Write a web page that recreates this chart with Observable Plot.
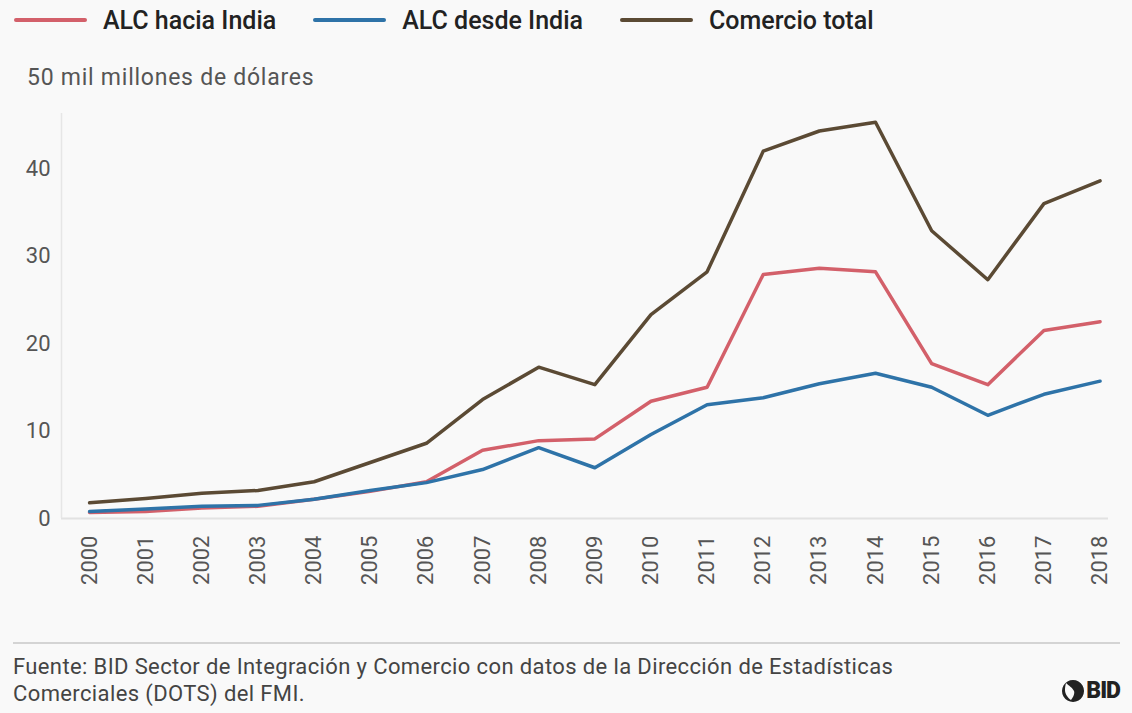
<!DOCTYPE html>
<html>
<head>
<meta charset="utf-8">
<script src="https://cdn.jsdelivr.net/npm/d3@7"></script>
<script src="https://cdn.jsdelivr.net/npm/@observablehq/plot@0.6"></script>
<style>
  html, body { margin: 0; padding: 0; background: #f9f9f9; }
  body { width: 1132px; height: 713px; position: relative; overflow: hidden; font-family: Roboto, "Open Sans", sans-serif; }
  #legend { position: absolute; left: 14px; top: 3px; height: 34px; display: flex; align-items: center; font-size: 25px; font-weight: 500; color: #222; }
  .item { display: flex; align-items: center; margin-right: 37px; }
  .sw { width: 73px; height: 4px; border-radius: 2px; margin-right: 16px; }
  #ylabel { position: absolute; left: 27px; top: 64px; font-size: 23px; letter-spacing: 0.75px; color: #555; }
  #chart { position: absolute; left: 0; top: 100px; }
  #sep { position: absolute; left: 13px; top: 642px; width: 1107px; height: 2px; background: #d4d4d4; }
  #caption { position: absolute; left: 13px; top: 653px; font-size: 22px; letter-spacing: 0.38px; line-height: 27px; color: #444; }
  #logo { position: absolute; right: 12px; top: 677px; display: flex; align-items: center; font-weight: 900; font-size: 23px; color: #222; letter-spacing: -1px; }
</style>
</head>
<body>
<div id="legend"></div>
<div id="ylabel">50 mil millones de dólares</div>
<div id="chart"></div>
<div id="sep"></div>
<div id="caption">Fuente: BID Sector de Integración y Comercio con datos de la Dirección de Estadísticas<br>Comerciales (DOTS) del FMI.</div>
<div id="logo"><svg width="22" height="24" viewBox="0 0 22 24"><path d="M11 1 A11 11 0 1 0 11.01 1 Z M4 4 C7 7 10 8 12 12 C13 15 11 18 9 21 C6 19 3 15 3 11 C3 8 3.5 6 4 4 Z" fill="#222" fill-rule="evenodd"/></svg><span style="margin-left:2px">BID</span></div>
<script>
const years = [2000,2001,2002,2003,2004,2005,2006,2007,2008,2009,2010,2011,2012,2013,2014,2015,2016,2017,2018];
const seriesNames = ["ALC hacia India", "ALC desde India", "Comercio total"];
const seriesColors = ["#d3606a", "#2e73a8", "#5b4a34"];
const haciaIndia = [0.7,0.8,1.2,1.4,2.2,3.1,4.2,7.8,8.9,9.1,13.4,15.0,27.9,28.6,28.2,17.7,15.3,21.5,22.5];
const desdeIndia = [0.8,1.1,1.4,1.5,2.2,3.2,4.1,5.6,8.1,5.8,9.6,13.0,13.8,15.4,16.6,15.0,11.8,14.2,15.7];
const comercioTotal = [1.8,2.3,2.9,3.2,4.2,6.4,8.6,13.6,17.3,15.3,23.3,28.2,42.0,44.3,45.3,32.9,27.3,36.0,38.6];
const yTicks = [0,10,20,30,40];

const allSeries = [haciaIndia, desdeIndia, comercioTotal];
const rows = [];
allSeries.forEach((vals, i) => vals.forEach((v, j) => rows.push({year: years[j], value: v, series: seriesNames[i]})));

const legend = document.getElementById("legend");
seriesNames.forEach((n, i) => {
  const it = document.createElement("div");
  it.className = "item";
  it.innerHTML = `<span class="sw" style="background:${seriesColors[i]}"></span><span>${n}</span>`;
  legend.appendChild(it);
});

const chart = Plot.plot({
  width: 1132,
  height: 530,
  marginTop: 13,
  marginBottom: 112,
  marginLeft: 61,
  marginRight: 24,
  style: {background: "transparent", fontFamily: "Roboto, sans-serif", color: "#555"},
  x: {type: "linear", domain: [1999.5, 2018.15]},
  y: {domain: [0, 46.3]},
  color: {domain: seriesNames, range: seriesColors},
  marks: [
    Plot.ruleY([0], {stroke: "#e2e2e2", strokeWidth: 2}),
    Plot.ruleX([1999.5], {stroke: "#e6e6e6", strokeWidth: 1.5}),
    Plot.axisY({ticks: yTicks, tickSize: 0, tickPadding: 11, fontSize: 22, label: null, fill: "#555"}),
    Plot.axisX({ticks: years, tickFormat: d => String(d), tickSize: 0, tickPadding: 17, tickRotate: -90, fontSize: 22, label: null, fill: "#555"}),
    Plot.lineY(rows, {x: "year", y: "value", z: "series", stroke: "series", strokeWidth: 3.5, strokeLinejoin: "round", strokeLinecap: "round"})
  ]
});
document.getElementById("chart").appendChild(chart);
</script>
</body>
</html>
